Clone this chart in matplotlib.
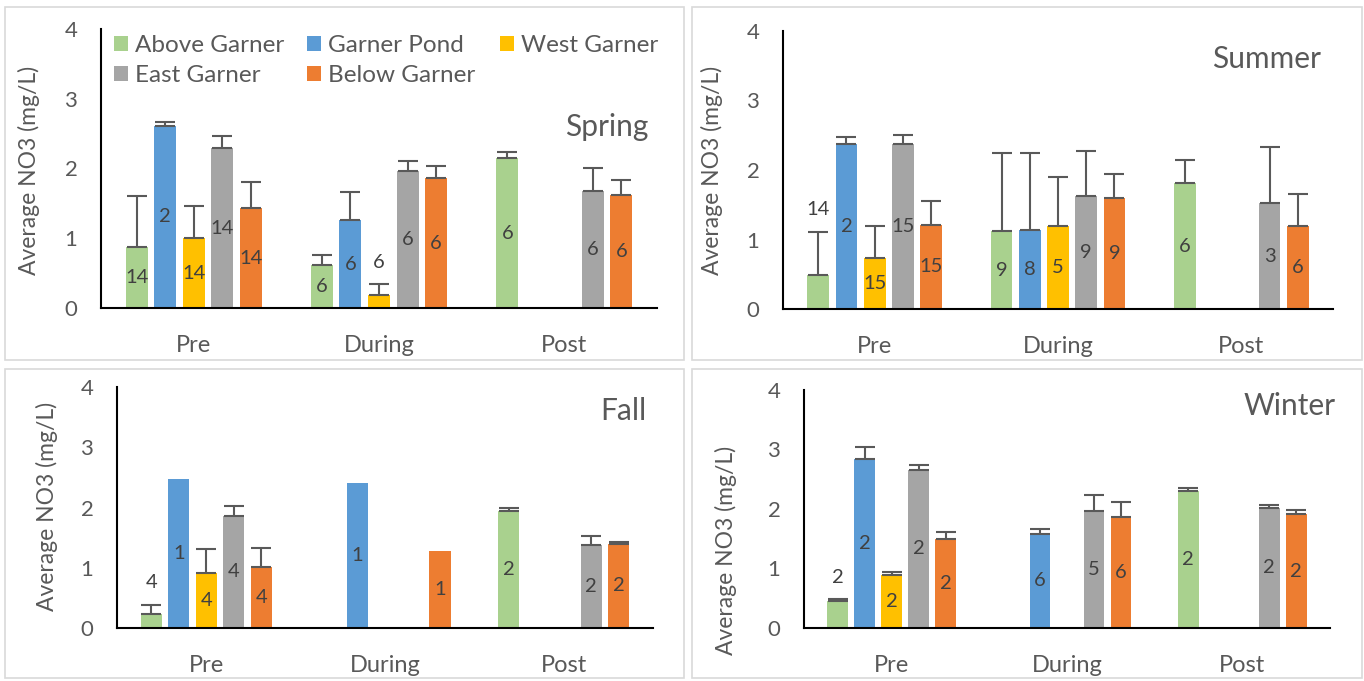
import numpy as np
import matplotlib.pyplot as plt
from matplotlib.patches import Rectangle

plt.rcParams['font.family'] = ['Lato', 'DejaVu Sans']

nan = np.nan
periods = ['Pre', 'During', 'Post']
sites = ['Above Garner', 'Garner Pond', 'West Garner', 'East Garner', 'Below Garner']
site_colors = ['#A9D18E', '#5B9BD5', '#FFC000', '#A5A5A5', '#ED7D31']
seasons = ['Spring', 'Summer', 'Fall', 'Winter']

# rows = sites, columns = Pre / During / Post
spring_mean = [[0.88, 0.61, 2.15],
               [2.61, 1.26, nan],
               [1.00, 0.18, nan],
               [2.29, 1.96, 1.68],
               [1.43, 1.86, 1.62]]
spring_err = [[0.73, 0.15, 0.09],
              [0.06, 0.40, nan],
              [0.46, 0.16, nan],
              [0.18, 0.15, 0.32],
              [0.38, 0.17, 0.22]]
spring_n = [[14, 6, 6], [2, 6, None], [14, 6, None], [14, 6, 6], [14, 6, 6]]

summer_mean = [[0.49, 1.12, 1.81],
               [2.38, 1.13, nan],
               [0.74, 1.20, nan],
               [2.37, 1.63, 1.52],
               [1.21, 1.59, 1.20]]
summer_err = [[0.62, 1.12, 0.33],
              [0.09, 1.11, nan],
              [0.45, 0.70, nan],
              [0.13, 0.64, 0.81],
              [0.34, 0.35, 0.45]]
summer_n = [[14, 9, 6], [2, 8, None], [15, 5, None], [15, 9, 3], [15, 9, 6]]

fall_mean = [[0.23, nan, 1.94],
             [2.47, 2.40, nan],
             [0.92, nan, nan],
             [1.86, nan, 1.38],
             [1.02, 1.28, 1.40]]
fall_err = [[0.15, nan, 0.06],
            [nan, nan, nan],
            [0.39, nan, nan],
            [0.17, nan, 0.14],
            [0.31, nan, 0.03]]
fall_n = [[4, None, 2], [1, 1, None], [4, None, None], [4, None, 2], [4, 1, 2]]

winter_mean = [[0.46, nan, 2.30],
               [2.84, 1.58, nan],
               [0.89, nan, nan],
               [2.66, 1.96, 2.02],
               [1.50, 1.86, 1.91]]
winter_err = [[0.02, nan, 0.05],
              [0.20, 0.08, nan],
              [0.05, nan, nan],
              [0.08, 0.27, 0.04],
              [0.11, 0.25, 0.07]]
winter_n = [[2, None, 2], [2, 6, None], [2, None, None], [2, 5, 2], [2, 6, 2]]

season_data = [(spring_mean, spring_err, spring_n),
               (summer_mean, summer_err, summer_n),
               (fall_mean, fall_err, fall_n),
               (winter_mean, winter_err, winter_n)]

# layout in pixels: axes box, outer frame, season title, y-label centre
W, H = 1364, 681
axes_px = [(101, 29, 657, 308), (783, 31, 1333, 309),
           (117, 387, 653, 628), (804, 390, 1330, 628)]
frame_px = [(5, 7, 684, 360), (692, 7, 1362, 360),
            (5, 369, 684, 678), (692, 369, 1362, 678)]
title_px = [(607, 127), (1267, 59), (623, 411), (1290, 406)]
ylabel_px = [(40, 170), (723, 170), (58, 506), (737, 550)]

text_gray = '#595959'
label_gray = '#404040'

fig = plt.figure(figsize=(W / 100, H / 100), dpi=100)

x = np.arange(len(periods))
pitch = 0.154
width = 0.119

for k, (means, errs, counts) in enumerate(season_data):
    x0, y0, x1, y1 = frame_px[k]
    fig.add_artist(Rectangle((x0 / W, 1 - y1 / H), (x1 - x0) / W, (y1 - y0) / H,
                             transform=fig.transFigure, fill=False,
                             edgecolor='#D9D9D9', linewidth=1.2))
    a0, b0, a1, b1 = axes_px[k]
    ax = fig.add_axes([a0 / W, 1 - b1 / H, (a1 - a0) / W, (b1 - b0) / H])

    handles = []
    for i, site in enumerate(sites):
        xs = x + (i - 2) * pitch
        m = np.array(means[i], dtype=float)
        e = np.array(errs[i], dtype=float)
        h = ax.bar(xs, m, width, color=site_colors[i], label=site, zorder=2)
        handles.append(h)
        ok = ~np.isnan(m) & ~np.isnan(e)
        if ok.any():
            ax.errorbar(xs[ok], m[ok], yerr=[np.zeros(ok.sum()), e[ok]],
                        fmt='none', ecolor=text_gray, elinewidth=1.5,
                        capsize=7.5, capthick=1.5, zorder=3)
        # sample counts: centred in the bar, or above the whisker for short bars
        for j in range(len(periods)):
            if counts[i][j] is None:
                continue
            if m[j] < 0.55:
                top = m[j] + (0 if np.isnan(e[j]) else e[j])
                ax.annotate(str(counts[i][j]), (xs[j], top), xytext=(0, 16),
                            textcoords='offset points', ha='center', va='center',
                            fontsize=14.5, color=label_gray)
            else:
                ax.text(xs[j], m[j] / 2, str(counts[i][j]), ha='center',
                        va='center', fontsize=14.5, color=label_gray, zorder=4)

    ax.set_xlim(-0.5, 2.5)
    ax.set_ylim(0, 4)
    ax.set_yticks([0, 1, 2, 3, 4])
    ax.set_xticks(x)
    ax.set_xticklabels(periods)
    ax.tick_params(axis='y', length=0, pad=17, labelsize=16, labelcolor=text_gray)
    ax.tick_params(axis='x', length=0, pad=19.5, labelsize=17, labelcolor=text_gray)
    for side in ['top', 'right']:
        ax.spines[side].set_visible(False)
    for side in ['left', 'bottom']:
        ax.spines[side].set_linewidth(1.5)
        ax.spines[side].set_color('black')

    ax.set_ylabel('Average NO3 (mg/L)', fontsize=16.5, color=text_gray)
    lx, ly = ylabel_px[k]
    ax.yaxis.set_label_coords(lx / W, 1 - ly / H, transform=fig.transFigure)

    tx, ty = title_px[k]
    fig.text(tx / W, 1 - ty / H, seasons[k], ha='center', va='center',
             fontsize=21.5, color=text_gray)

    if k == 0:
        # legend laid out in rows of three, one legend per column
        cols = [[0, 3], [1, 4], [2]]
        col_x = [114, 307, 500]
        for c, idx in enumerate(cols):
            leg = ax.legend([handles[i] for i in idx], [sites[i] for i in idx],
                            loc='upper left',
                            bbox_to_anchor=(col_x[c] / W, 1 - 35 / H),
                            bbox_transform=fig.transFigure, frameon=False,
                            fontsize=17.5, handlelength=0.58, handleheight=0.58,
                            handletextpad=0.3, labelspacing=0.38,
                            borderpad=0, borderaxespad=0, labelcolor=text_gray)
            if c < 2:
                ax.add_artist(leg)

fig.savefig('out.png', dpi=100)
